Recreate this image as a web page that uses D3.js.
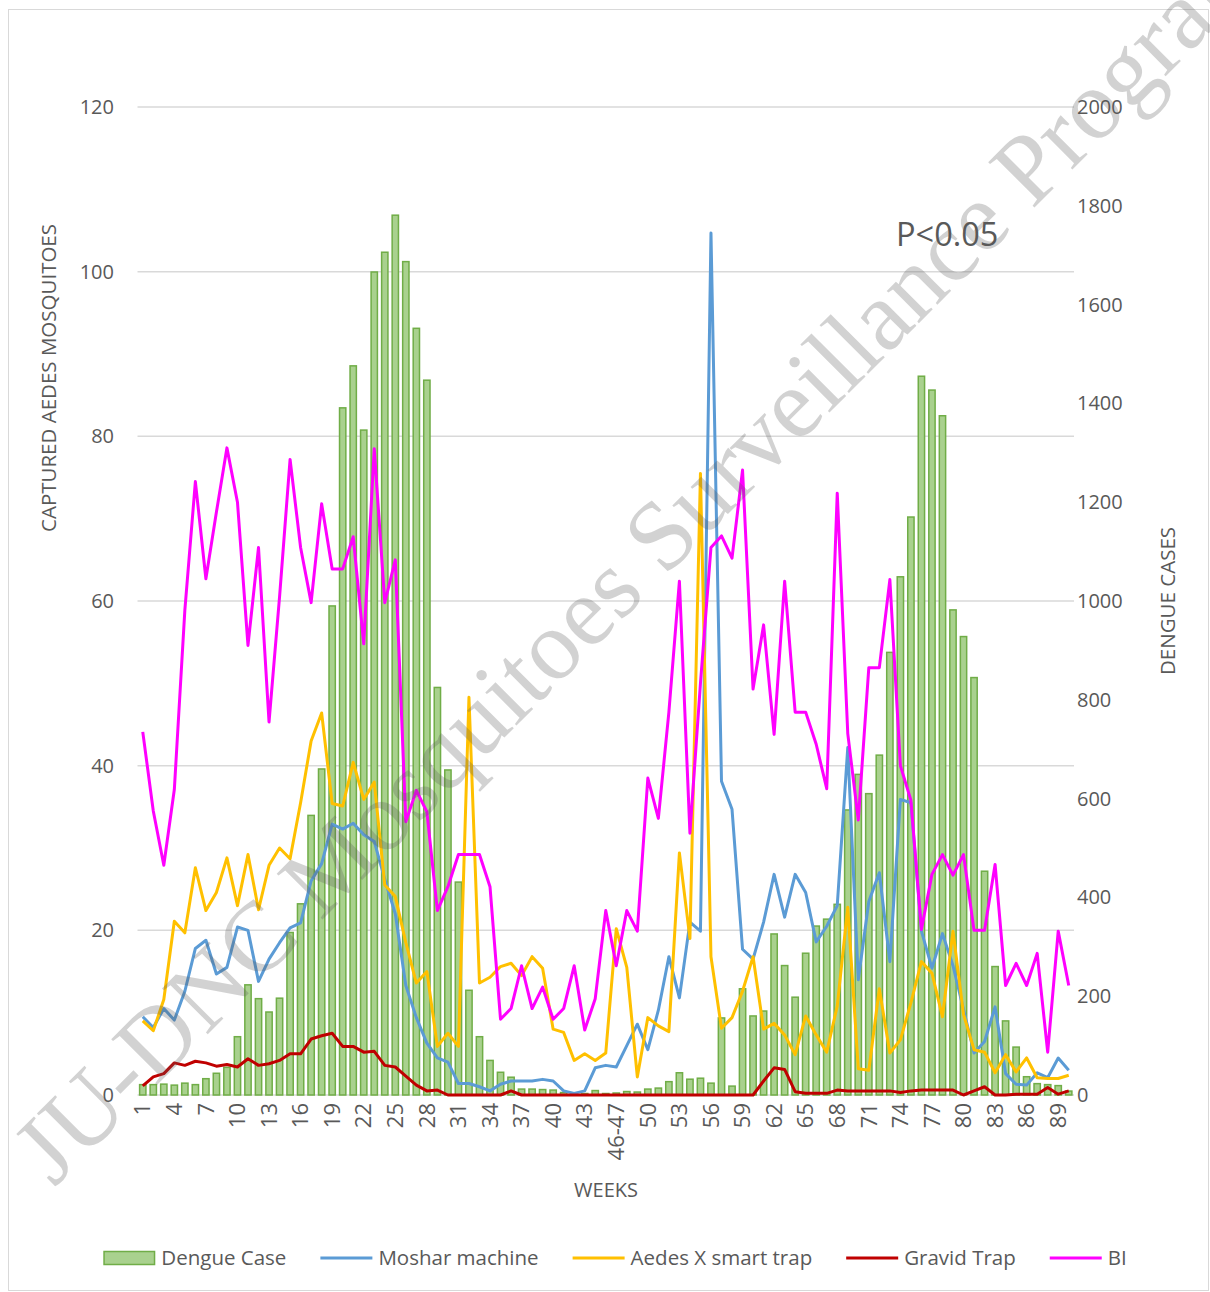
<!DOCTYPE html>
<html lang="en">
<head>
<meta charset="UTF-8">
<title>Dengue cases and captured Aedes mosquitoes</title>
<style>
  body { margin: 0; background: #fff; }
  svg text { font-family: "Open Sans", "Liberation Sans", sans-serif; fill: #595959; }
</style>
</head>
<body>
<svg id="chart" width="1210" height="1292"></svg>
<script src="https://cdn.jsdelivr.net/npm/d3@7"></script>
<script>
"use strict";

// weeks: 1..45, then 46-47 merged, then 48..90
var weeks = d3.range(1, 46).map(String).concat(["46-47"]).concat(d3.range(48, 91).map(String));

var dengueCase = [21,21,22,20,24,21,33,44,56,118, 223,195,168,196,329,387,566,660,990,1391,
                  1476,1346,1666,1706,1781,1687,1552,1447,825,658, 431,212,118,70,46,36,12,12,11,10,
                  5,3,3,9,3,4,7,6,12,14, 27,45,32,34,24,156,18,215,160,170,
                  326,262,198,287,342,356,386,577,649,610, 688,896,1049,1170,1455,1427,1375,982,928,845,
                  453,260,150,97,37,23,21,19,8];

var mosharMachine = [9.5,8.2,10.5,9.1,12.6,17.8,18.8,14.7,15.5,20.4, 20.0,13.8,16.5,18.5,20.3,20.9,26.0,28.1,32.9,32.3,
                     33.0,31.6,30.8,26.2,22.0,13.3,9.4,6.3,4.5,4.0, 1.4,1.4,1.0,0.5,1.3,1.7,1.7,1.7,1.9,1.7,
                     0.5,0.2,0.5,3.3,3.6,3.4,6.0,8.6,5.5,10.3, 16.8,11.8,21.0,19.9,104.7,38.1,34.7,17.7,16.5,21.0,
                     26.8,21.6,26.8,24.6,18.6,20.5,23.0,42.2,14.0,23.5, 27.0,16.2,35.9,35.5,19.9,15.4,19.6,15.7,10.4,5.1,
                     6.5,10.7,2.6,1.3,1.2,2.7,2.1,4.5,3.0];

var aedesXTrap = [9.0,7.8,11.6,21.1,19.7,27.6,22.4,24.6,28.8,23.0, 29.2,22.5,27.9,30.0,28.7,35.5,43.0,46.4,35.4,35.1,
                  40.4,35.9,38.0,25.5,24.1,18.5,13.6,15.0,5.9,7.5, 5.9,48.3,13.6,14.3,15.6,16.0,14.5,16.8,15.4,8.0,
                  7.6,4.2,5.0,4.2,5.1,20.2,15.5,2.2,9.4,8.4, 7.7,29.4,19.0,75.5,16.8,8.1,9.4,12.6,16.8,8.0,
                  8.7,7.3,4.9,9.6,7.3,5.2,10.8,22.8,3.2,3.0, 12.9,5.1,6.7,11.2,16.2,14.8,9.5,19.9,9.8,5.5,
                  5.2,2.7,4.9,2.8,4.5,2.1,2.0,2.0,2.4];

var gravidTrap = [1.1,2.2,2.6,3.9,3.6,4.1,3.9,3.5,3.7,3.4, 4.4,3.6,3.8,4.2,5.0,5.0,6.8,7.2,7.5,5.9,
                  5.9,5.2,5.3,3.6,3.4,2.3,1.2,0.5,0.6,0, 0,0,0,0,0,0.5,0,0,0,0,
                  0,0,0,0,0,0,0,0,0,0, 0,0,0,0,0,0,0,0,0,1.7,
                  3.3,3.1,0.4,0.2,0.2,0.2,0.6,0.5,0.5,0.5, 0.5,0.5,0.3,0.5,0.6,0.6,0.6,0.6,0,0.5,
                  1.0,0,0,0.1,0.1,0.1,0.9,0.1,0.5];

var breteauIndex = [44.1,34.5,27.9,37.1,58.9,74.5,62.7,70.8,78.6,72.0, 54.6,66.5,45.3,60.5,77.2,66.5,59.8,71.8,63.9,63.9,
                    67.8,54.8,78.5,59.8,65.0,33.2,37.0,34.4,22.4,25.3, 29.2,29.2,29.2,25.3,9.2,10.5,15.7,10.5,13.1,9.2,
                    10.5,15.7,7.9,11.7,22.4,15.7,22.4,19.9,38.5,33.6, 46.5,62.4,31.8,50.0,66.5,67.9,65.2,75.9,49.3,57.1,
                    43.8,62.4,46.5,46.5,42.6,37.2,73.1,43.9,33.4,51.9, 51.9,62.6,40.0,35.8,20.1,26.8,29.2,26.7,29.2,20.0,
                    20.0,28.0,13.3,16.0,13.3,17.2,5.2,19.9,13.3];

var leftTicks = [0, 20, 40, 60, 80, 100, 120];
var rightTicks = [0, 200, 400, 600, 800, 1000, 1200, 1400, 1600, 1800, 2000];

var lineSeries = [
  {name: "Moshar machine", values: mosharMachine, color: "#5b9bd5"},
  {name: "Aedes X smart trap", values: aedesXTrap, color: "#ffc000"},
  {name: "Gravid Trap", values: gravidTrap, color: "#c00000"},
  {name: "BI", values: breteauIndex, color: "#ff00ff"}
];

var svg = d3.select("#chart");

// outer chart border
svg.append("rect")
  .attr("x", 8.5).attr("y", 9.5)
  .attr("width", 1200).attr("height", 1281)
  .attr("fill", "none").attr("stroke", "#d9d9d9");

var x = d3.scaleBand().domain(weeks).range([137.5, 1074]).paddingInner(0.4).paddingOuter(0.2);
var yLeft = d3.scaleLinear().domain([0, 120]).range([1095, 107]);
var yRight = d3.scaleLinear().domain([0, 2000]).range([1095, 107]);
var cx = function(i) { return x(weeks[i]) + x.bandwidth() / 2; };

// gridlines
svg.append("g").selectAll("line")
  .data(leftTicks)
  .enter().append("line")
  .attr("x1", 137.5).attr("x2", 1074)
  .attr("y1", function(d) { return yLeft(d); })
  .attr("y2", function(d) { return yLeft(d); })
  .attr("stroke", "#d9d9d9").attr("stroke-width", 1.5);

// left axis
var leftAxis = svg.append("g")
  .attr("transform", "translate(124,0)")
  .call(d3.axisLeft(yLeft).tickValues(leftTicks).tickSize(0).tickPadding(10));
leftAxis.select(".domain").remove();
leftAxis.selectAll("text").style("font-size", "20px").attr("fill", "#595959");

// right axis
var rightAxis = svg.append("g")
  .attr("transform", "translate(1067,0)")
  .call(d3.axisRight(yRight).tickValues(rightTicks).tickFormat(d3.format("d")).tickSize(0).tickPadding(10));
rightAxis.select(".domain").remove();
rightAxis.selectAll("text").style("font-size", "20px").attr("fill", "#595959");

// x axis labels, every third week
var bottom = svg.append("g")
  .attr("transform", "translate(0,1095)")
  .call(d3.axisBottom(x).tickSize(0)
    .tickValues(weeks.filter(function(d, i) { return i % 3 === 0; })));
bottom.select(".domain").remove();
bottom.selectAll("text")
  .style("font-size", "22px").attr("fill", "#595959")
  .attr("text-anchor", "end")
  .attr("transform", "rotate(-90)")
  .attr("x", -8).attr("y", 0).attr("dy", "0.35em");

// dengue bars
svg.append("g").selectAll("rect")
  .data(dengueCase)
  .enter().append("rect")
  .attr("x", function(d, i) { return x(weeks[i]); })
  .attr("y", function(d) { return yRight(d); })
  .attr("width", x.bandwidth())
  .attr("height", function(d) { return yRight(0) - yRight(d); })
  .attr("fill", "#a9d18e")
  .attr("stroke", "#70ad47").attr("stroke-width", 1.5);

// trap lines
var line = d3.line()
  .x(function(d, i) { return cx(i); })
  .y(function(d) { return yLeft(d); });

svg.append("g").selectAll("path")
  .data(lineSeries)
  .enter().append("path")
  .attr("d", function(s) { return line(s.values); })
  .attr("fill", "none")
  .attr("stroke", function(s) { return s.color; })
  .attr("stroke-width", 3)
  .attr("stroke-linejoin", "round");

// axis titles
svg.append("text")
  .attr("transform", "translate(56,378) rotate(-90)")
  .attr("text-anchor", "middle")
  .style("font-size", "20.5px")
  .text("CAPTURED AEDES MOSQUITOES");

svg.append("text")
  .attr("transform", "translate(1175,601) rotate(-90)")
  .attr("text-anchor", "middle")
  .style("font-size", "20.5px")
  .text("DENGUE CASES");

svg.append("text")
  .attr("x", 606).attr("y", 1197)
  .attr("text-anchor", "middle")
  .style("font-size", "20px")
  .text("WEEKS");

svg.append("text")
  .attr("x", 896).attr("y", 246)
  .style("font-size", "32.5px")
  .text("P<0.05");

// legend
var legendItems = [{name: "Dengue Case", bar: true}].concat(lineSeries);
var legend = svg.append("g").attr("transform", "translate(0,1258)");
var items = legend.selectAll("g").data(legendItems).enter().append("g");
items.append("text")
  .attr("x", 58).attr("dy", "0.35em")
  .style("font-size", "20.5px")
  .text(function(d) { return d.name; });
items.each(function(d) {
  var g = d3.select(this);
  if (d.bar) {
    g.append("rect").attr("x", 0.75).attr("y", -6.5).attr("width", 50.5).attr("height", 13)
      .attr("fill", "#a9d18e").attr("stroke", "#70ad47").attr("stroke-width", 1.5);
  } else {
    g.append("line").attr("x1", 0).attr("x2", 52).attr("y1", 0).attr("y2", 0)
      .attr("stroke", d.color).attr("stroke-width", 3);
  }
});
var widths = [];
items.each(function() { widths.push(58 + d3.select(this).select("text").node().getComputedTextLength()); });
var gap = 34;
var total = d3.sum(widths) + gap * (widths.length - 1);
var pos = 615 - total / 2;
items.attr("transform", function(d, i) {
  var p = pos;
  pos += widths[i] + gap;
  return "translate(" + p + ",0)";
});

// watermark
svg.append("text")
  .attr("transform", "translate(54,1188) rotate(-45)")
  .style("font-family", "'Liberation Serif', 'DejaVu Serif', serif")
  .style("font-size", "99px")
  .attr("fill", "#808080")
  .attr("fill-opacity", 0.27)
  .text("JU-DNC Mosquitoes Surveillance Program");
</script>
</body>
</html>
